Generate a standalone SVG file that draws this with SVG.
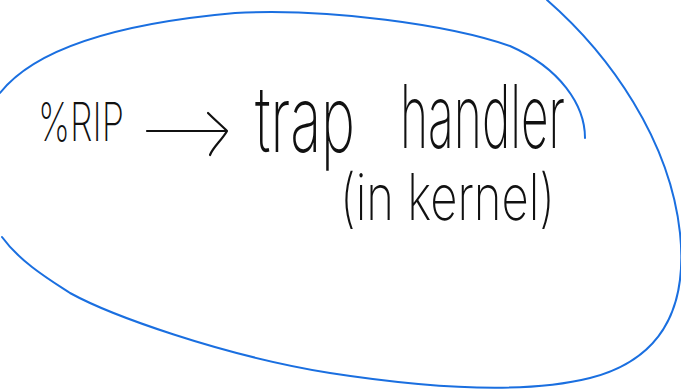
<svg xmlns="http://www.w3.org/2000/svg" width="681" height="391" viewBox="0 0 681 391">
<style>
.loop{fill:none;stroke:#1a6fe0;stroke-width:2;stroke-linecap:round}
.ink{fill:none;stroke:#111;stroke-width:2.2;stroke-linecap:round;stroke-linejoin:round}
.hw{font-family:Inter,"Noto Sans","DejaVu Sans",sans-serif;font-weight:200;fill:#111}
</style>
<rect width="681" height="391" fill="#fff"/>
<g id="loops">
<path class="loop" d="M0,93 C30,55 100,25 235,13 C330,8 450,25 510,46 C560,68 585,105 585,138"/>
<path class="loop" d="M547,0 C610,55 670,140 680,233 C688,310 660,360 590,378 C530,393 440,390 330,373 C220,355 110,315 70,293 C50,280 20,262 2,237"/>
</g>
<g id="rip">
<text class="hw" x="38" y="141" font-size="54" textLength="86" lengthAdjust="spacingAndGlyphs">%RIP</text>
</g>
<g id="connectors">
<path class="ink" d="M147,131 L226,131 M208,113 C214,119 222,126 227,131 C222,140 213,147 210,155"/>
</g>
<g id="handler">
<text class="hw" x="255" y="152" font-size="92" textLength="100" lengthAdjust="spacingAndGlyphs">trap</text>
<text class="hw" x="400" y="148" font-size="88" textLength="165" lengthAdjust="spacingAndGlyphs">handler</text>
<text class="hw" x="340" y="220" font-size="64" textLength="215" lengthAdjust="spacingAndGlyphs">(in kernel)</text>
</g>
</svg>
